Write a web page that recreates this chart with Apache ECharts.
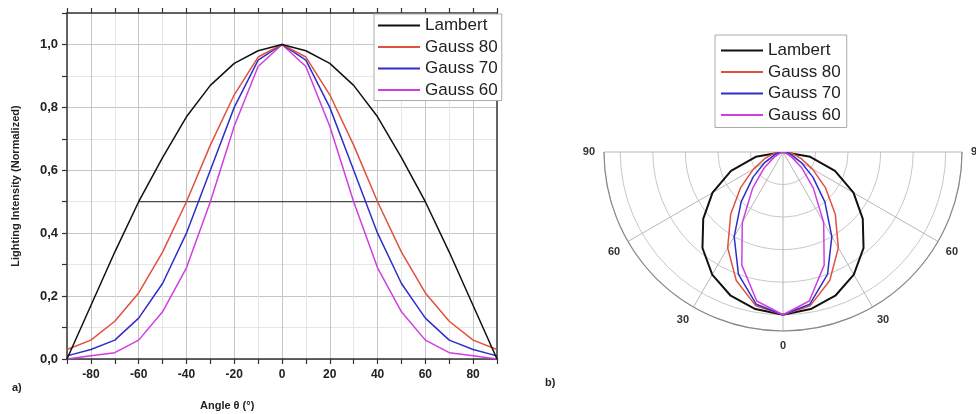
<!DOCTYPE html>
<html>
<head>
<meta charset="utf-8">
<script src="https://cdn.jsdelivr.net/npm/echarts@6/dist/echarts.min.js"></script>
<style>
html, body { margin: 0; padding: 0; background: #fff; }
#chart { width: 976px; height: 414px; }
</style>
</head>
<body>
<div id="chart"></div>
<script>
// emission angle, degrees (sampled every 10 deg)
const angles = [-90, -80, -70, -60, -50, -40, -30, -20, -10, 0, 10, 20, 30, 40, 50, 60, 70, 80, 90]

// normalized intensity
const lambert = [0, 0.17, 0.34, 0.5, 0.64, 0.77, 0.87, 0.94, 0.98, 1, 0.98, 0.94, 0.87, 0.77, 0.64, 0.5, 0.34, 0.17, 0]
const gauss80 = [0.03, 0.06, 0.12, 0.21, 0.34, 0.5, 0.68, 0.84, 0.96, 1, 0.96, 0.84, 0.68, 0.5, 0.34, 0.21, 0.12, 0.06, 0.03]
const gauss70 = [0.01, 0.03, 0.06, 0.13, 0.24, 0.4, 0.6, 0.8, 0.95, 1, 0.95, 0.8, 0.6, 0.4, 0.24, 0.13, 0.06, 0.03, 0.01]
const gauss60 = [0, 0.01, 0.02, 0.06, 0.15, 0.29, 0.5, 0.74, 0.93, 1, 0.93, 0.74, 0.5, 0.29, 0.15, 0.06, 0.02, 0.01, 0]

// half maximum marker
const halfMaxAngles = [-60, 60]
const halfMaxLevel = 0.5

const seriesNames = ['Lambert', 'Gauss 80', 'Gauss 70', 'Gauss 60']
const seriesColors = ['#111111', '#e0513f', '#2f2fc8', '#cf3fe0']
const curves = [lambert, gauss80, gauss70, gauss60]

const font = 'Arial, "Liberation Sans", sans-serif'
const chart = echarts.init(document.getElementById('chart'))

const legendBase = {
    data: seriesNames,
    orient: 'vertical',
    selectedMode: false,
    icon: 'rect',
    itemWidth: 42,
    itemHeight: 2,
    itemGap: 4.5,
    backgroundColor: '#fff',
    borderColor: '#aaa',
    borderWidth: 1,
    borderRadius: 0,
    textStyle: { fontSize: 17, color: '#222', fontFamily: font },
}

const cartesianSeries = curves.map((vals, k) => ({
    name: seriesNames[k],
    type: 'line',
    xAxisIndex: 0,
    yAxisIndex: 0,
    symbol: 'none',
    data: angles.map((a, i) => [a, vals[i]]),
    lineStyle: { color: seriesColors[k], width: 1.5 },
    itemStyle: { color: seriesColors[k] },
    z: 3 + (3 - k),
}))

const polarSeries = curves.map((vals, k) => ({
    name: seriesNames[k],
    type: 'line',
    coordinateSystem: 'polar',
    symbol: 'none',
    data: angles.map((a, i) => [vals[i], a]),
    lineStyle: { color: seriesColors[k], width: k === 0 ? 2 : 1.5 },
    itemStyle: { color: seriesColors[k] },
}))

chart.setOption({
    animation: false,
    backgroundColor: '#fff',
    textStyle: { fontFamily: font },
    grid: { left: 67, right: 479, top: 13, bottom: 55 },
    xAxis: [
        {
            type: 'value',
            min: -90,
            max: 90,
            interval: 10,
            position: 'bottom',
            axisLine: { onZero: false, lineStyle: { color: '#333', width: 1.5 } },
            axisTick: { length: 5, lineStyle: { color: '#333', width: 1.2 } },
            axisLabel: {
                fontSize: 12,
                fontWeight: 'bold',
                color: '#222',
                margin: 10,
                formatter: (v) => (v % 20 === 0 && Math.abs(v) < 90 ? String(v) : ''),
            },
            splitLine: { show: true, lineStyle: { color: ['#e6e6e6', '#c6c6c6'], width: 1 } },
        },
        {
            type: 'value',
            min: -90,
            max: 90,
            interval: 10,
            position: 'top',
            axisLine: { onZero: false, lineStyle: { color: '#333', width: 1.5 } },
            axisTick: { length: 5, lineStyle: { color: '#333', width: 1.2 } },
            axisLabel: { show: false },
            splitLine: { show: false },
        },
    ],
    yAxis: [
        {
            type: 'value',
            min: 0,
            max: 1.1,
            interval: 0.1,
            position: 'left',
            name: 'Lighting Intensity (Normalized)',
            nameLocation: 'middle',
            nameGap: 46,
            nameTextStyle: { fontSize: 11, fontWeight: 'bold', color: '#222' },
            axisLine: { show: true, onZero: false, lineStyle: { color: '#333', width: 1.5 } },
            axisTick: { show: true, length: 5, lineStyle: { color: '#333', width: 1.2 } },
            axisLabel: {
                fontSize: 13,
                fontWeight: 'bold',
                color: '#222',
                margin: 9,
                formatter: (v) => {
                    const k = Math.round(v * 10)
                    return k % 2 === 0 && k <= 10 ? v.toFixed(1).replace('.', ',') : ''
                },
            },
            splitLine: { show: true, lineStyle: { color: ['#c6c6c6', '#e6e6e6'], width: 1 } },
        },
        {
            type: 'value',
            min: 0,
            max: 1.1,
            position: 'right',
            axisLine: { show: true, onZero: false, lineStyle: { color: '#333', width: 1.5 } },
            axisTick: { show: false },
            axisLabel: { show: false },
            splitLine: { show: false },
        },
    ],
    polar: { center: [783, 152], radius: [0, 179] },
    angleAxis: {
        type: 'value',
        min: -90,
        max: 90,
        interval: 30,
        startAngle: 180,
        endAngle: 360,
        clockwise: false,
        axisLine: { lineStyle: { color: '#8a8a8a', width: 1.2 } },
        axisTick: { show: false },
        axisLabel: {
            fontSize: 11,
            fontWeight: 'bold',
            color: '#333',
            margin: 9,
            formatter: (v) => String(Math.abs(v)),
        },
        splitLine: { lineStyle: { color: '#b8b8b8', width: 1 } },
    },
    radiusAxis: {
        type: 'value',
        min: 0,
        max: 1.1,
        interval: 0.2,
        axisLine: { show: false },
        axisTick: { show: false },
        axisLabel: { show: false },
        splitLine: { lineStyle: { color: '#c8c8c8', width: 1 } },
    },
    legend: [
        Object.assign({}, legendBase, { left: 374, top: 14, padding: [3, 4, 2, 4] }),
        Object.assign({}, legendBase, { left: 715, top: 35, padding: [7, 6, 4, 6] }),
    ],
    graphic: [
        { type: 'text', left: 200, top: 400, style: { text: 'Angle θ (°)', font: 'bold 11px ' + font, fill: '#222' } },
        { type: 'text', left: 12, top: 382, style: { text: 'a)', font: 'bold 11px ' + font, fill: '#222' } },
        { type: 'text', left: 545, top: 377, style: { text: 'b)', font: 'bold 11px ' + font, fill: '#222' } },
    ],
    series: [
        ...cartesianSeries,
        {
            name: 'half',
            type: 'line',
            symbol: 'none',
            data: halfMaxAngles.map((a) => [a, halfMaxLevel]),
            lineStyle: { color: '#222', width: 1 },
            z: 2,
        },
        ...polarSeries,
    ],
})
</script>
</body>
</html>
